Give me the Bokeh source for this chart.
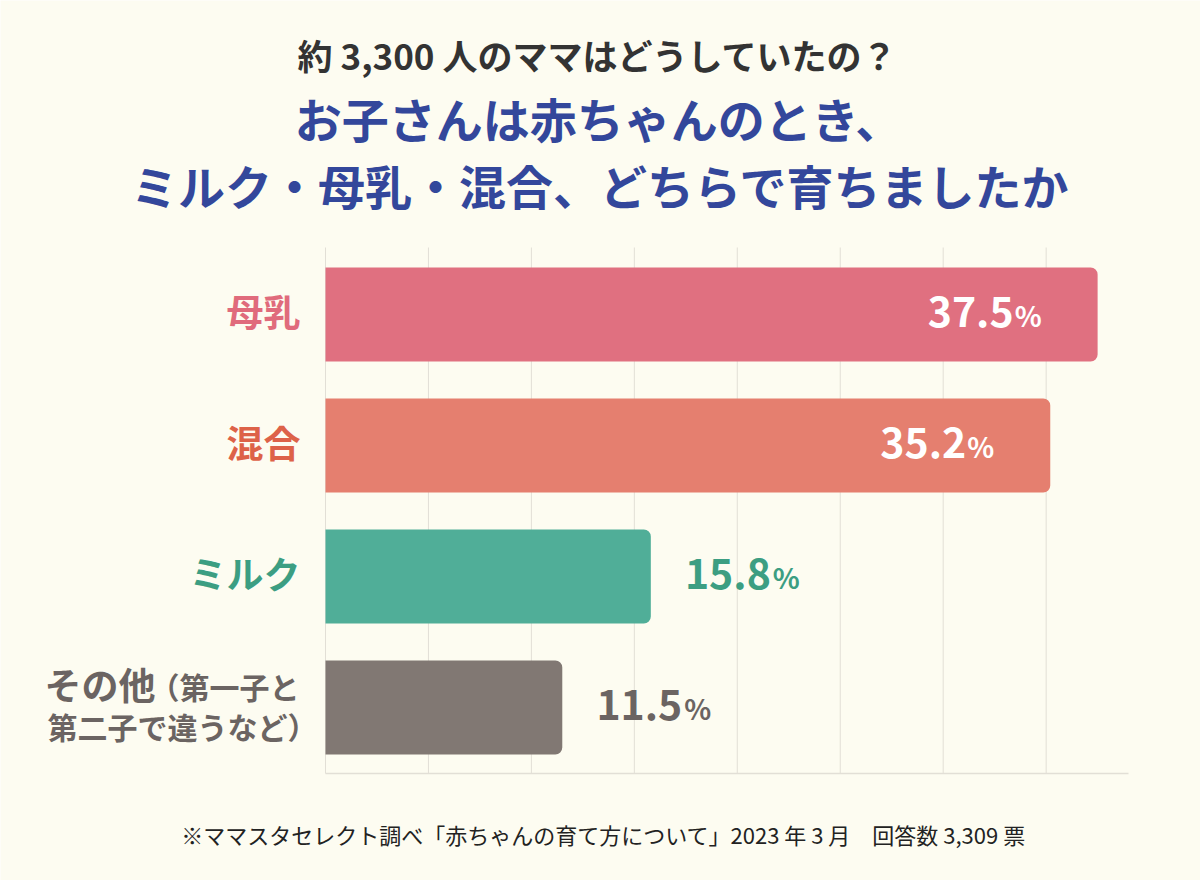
from bokeh.plotting import figure
from bokeh.models import Range1d
from bokeh.core.properties import value
from bokeh.embed import file_html
from bokeh.resources import INLINE

# データ
categories = ["母乳", "混合", "ミルク", "その他"]
notes = ["", "", "", "（第一子と\n第二子で違うなど）"]
values = [37.5, 35.2, 15.8, 11.5]
ticks = [0, 5, 10, 15, 20, 25, 30, 35]

title_sub = "約 3,300 人のママはどうしていたの？"
title_main = ["お子さんは赤ちゃんのとき、", "ミルク・母乳・混合、どちらで育ちましたか"]
footnote = "※ママスタセレクト調べ「赤ちゃんの育て方について」2023 年 3 月　回答数 3,309 票"

# 色
bar_colors = ["#e07080", "#e57f6f", "#50ae98", "#817873"]
label_colors = ["#e06b7c", "#dd6248", "#3c9e82", "#6b6462"]
BG = "#fdfcf1"
BLUE = "#33479b"
DARK = "#333333"
GRID = "#e2dfd6"
FONT = value("Noto Sans CJK JP")

# キャンバス全体をフレームにして、ピクセル位置をデータ座標に変換する
W, H = 1200, 880
X0, XEND, XMAX = 325, 1128, 39      # 0% と 39% の位置
PX = (XEND - X0) / XMAX
Y0, STEP = 314, 131                  # 1本目の中心と間隔

def xd(px):
    return (px - X0) / PX

def yd(px):
    return (px - Y0) / STEP

p = figure(width=W, height=H, x_axis_type=None, y_axis_type=None,
           x_range=Range1d(xd(0), xd(W)), y_range=Range1d(yd(H), yd(0)),
           output_backend="svg", toolbar_location=None, min_border=0)
p.outline_line_color = None
p.background_fill_color = BG
p.border_fill_color = BG

# グリッド
p.segment(x0=ticks, x1=ticks, y0=yd(247), y1=yd(773), line_color=GRID, line_width=1)
p.segment(x0=[0], x1=[XMAX], y0=[yd(773)], y1=[yd(773)], line_color=GRID, line_width=1.5)

# 棒
idx = list(range(len(categories)))
p.hbar(y=idx, left=0, right=values, height=94 / STEP, fill_color=bar_colors,
       line_color=None, border_radius=(0, 7, 7, 0))

# 数値ラベル
for i, v in enumerate(values):
    num = f"{v:.1f}"
    if v > 20:
        p.text(x=[v], y=[i], text=[num], x_offset=-84, y_offset=-3, text_align="right",
               text_baseline="middle", text_color="white", text_font=FONT,
               text_font_size="41px", text_font_style="bold")
        p.text(x=[v], y=[i], text=["%"], x_offset=-56, y_offset=0, text_align="right",
               text_baseline="middle", text_color="white", text_font=FONT,
               text_font_size="28px", text_font_style="bold")
    else:
        p.text(x=[v], y=[i], text=[num], x_offset=120, y_offset=-3, text_align="right",
               text_baseline="middle", text_color=label_colors[i], text_font=FONT,
               text_font_size="41px", text_font_style="bold")
        p.text(x=[v], y=[i], text=["%"], x_offset=122, y_offset=0, text_align="left",
               text_baseline="middle", text_color=label_colors[i], text_font=FONT,
               text_font_size="28px", text_font_style="bold")

# カテゴリラベル
for i, c in enumerate(categories):
    if notes[i]:
        l1, l2 = notes[i].split("\n")
        p.text(x=[0], y=[i], text=[c], x_offset=-170, y_offset=-24, text_align="right",
               text_baseline="middle", text_color=label_colors[i], text_font=FONT,
               text_font_size="37px", text_font_style="bold")
        p.text(x=[0], y=[i], text=[l1], x_offset=-26, y_offset=-22, text_align="right",
               text_baseline="middle", text_color=label_colors[i], text_font=FONT,
               text_font_size="30px", text_font_style="bold")
        p.text(x=[0], y=[i], text=[l2], x_offset=-8, y_offset=18, text_align="right",
               text_baseline="middle", text_color=label_colors[i], text_font=FONT,
               text_font_size="30px", text_font_style="bold")
    else:
        p.text(x=[0], y=[i], text=[c], x_offset=-25, y_offset=-4, text_align="right",
               text_baseline="middle", text_color=label_colors[i], text_font=FONT,
               text_font_size="37px", text_font_style="bold")

# タイトル
p.text(x=[xd(597)], y=[yd(54)], text=[title_sub], text_align="center",
       text_baseline="middle", text_color=DARK, text_font=FONT,
       text_font_size="35px", text_font_style="bold")
p.text(x=[xd(598), xd(600)], y=[yd(117), yd(184)], text=title_main, text_align="center",
       text_baseline="middle", text_color=BLUE, text_font=FONT,
       text_font_size="47px", text_font_style="bold")

# 注記
p.text(x=[xd(603)], y=[yd(833)], text=[footnote], text_align="center",
       text_baseline="middle", text_color="#222222", text_font=FONT,
       text_font_size="22px")

open("out.html", "w").write(file_html(p, INLINE))
